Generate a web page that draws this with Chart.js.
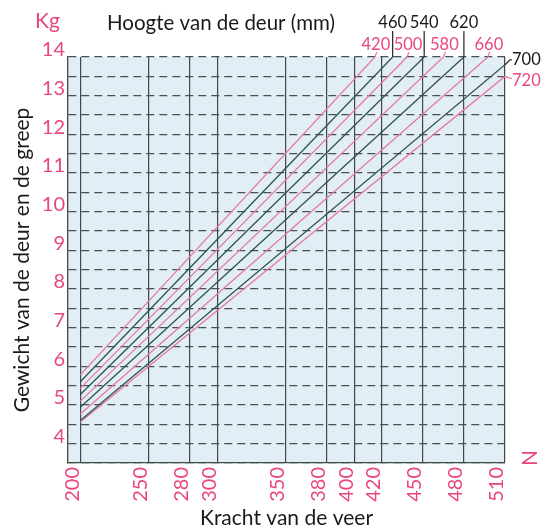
<!DOCTYPE html>
<html><head><meta charset="utf-8">
<script src="https://cdn.jsdelivr.net/npm/chart.js@4"></script>
<style>html,body{margin:0;padding:0;background:#fff}canvas{display:block}</style>
</head><body>
<canvas id="c" width="553" height="531"></canvas>
<script>
// ---- data ----
const doorHeights = [420, 460, 500, 540, 580, 620, 660, 700, 720];
const startForce = [200, 200, 200, 200, 200, 200, 200, 200, 200];
const startWeight = [5.78, 5.60, 5.43, 5.27, 5.10, 4.94, 4.77, 4.60, 4.56];
const endForce = [415, 428, 438.5, 451, 465, 480, 497.5, 510, 510];
const endWeight = [14, 14, 14, 14, 14, 14, 14, 13.8, 13.5];
const forceTicks = [200, 250, 280, 300, 350, 380, 400, 420, 450, 480, 510];
const weightTicks = [4, 5, 6, 7, 8, 9, 10, 11, 12, 13, 14];

const PINK = '#e9477c';
const PINK_LINE = '#e8799f';
const DARK_LINE = '#2d524c';
const GRID = '#3f4946';
const FONT = 'Lato, "Noto Sans", sans-serif';

const datasets = doorHeights.map((h, i) => ({
  label: String(h),
  data: [{x: startForce[i], y: startWeight[i]}, {x: endForce[i], y: endWeight[i]}],
  borderColor: i % 2 === 0 ? PINK_LINE : DARK_LINE,
  borderWidth: 1.3,
  pointRadius: 0,
  showLine: true,
  fill: false
}));

const bgPlugin = {
  id: 'bg',
  beforeDraw(chart) {
    const {ctx, chartArea: a} = chart;
    ctx.save();
    ctx.fillStyle = '#e1eef6';
    ctx.fillRect(a.left, a.top, a.right - a.left, a.bottom - a.top);
    ctx.restore();
  }
};

const labelPlugin = {
  id: 'labels',
  afterDraw(chart) {
    const {ctx, scales: {x, y}} = chart;
    ctx.save();
    ctx.textBaseline = 'middle';
    ctx.fillStyle = PINK;
    ctx.font = '21px ' + FONT;
    ctx.textAlign = 'left';
    ctx.fillText('Kg', 35, 21);
    ctx.fillStyle = '#1a1a1a';
    ctx.font = '20.5px ' + FONT;
    ctx.textAlign = 'center';
    ctx.fillText('Hoogte van de deur (mm)', 221, 23);
    ctx.font = '16.5px ' + FONT;
    ctx.lineWidth = 1.2;
    doorHeights.forEach((h, i) => {
      const ex = x.getPixelForValue(endForce[i]);
      const ey = y.getPixelForValue(endWeight[i]);
      const pink = i % 2 === 0;
      ctx.strokeStyle = pink ? PINK_LINE : '#222';
      ctx.fillStyle = pink ? PINK : '#1a1a1a';
      if (endWeight[i] >= 14) {
        ctx.textAlign = 'center';
        if (pink) {
          ctx.fillText(String(h), ex + 1, 45);
          ctx.beginPath(); ctx.moveTo(ex + 2, 52); ctx.lineTo(ex, ey); ctx.stroke();
        } else {
          ctx.fillText(String(h), ex, 23);
          ctx.beginPath(); ctx.moveTo(ex, 31); ctx.lineTo(ex, ey); ctx.stroke();
        }
      } else {
        const ly = pink ? ey + 4 : ey - 5;
        ctx.textAlign = 'left';
        ctx.fillText(String(h), ex + 7, ly);
        ctx.beginPath(); ctx.moveTo(ex, ey); ctx.lineTo(ex + 5, ly - (pink ? 2 : 0)); ctx.lineTo(ex + 7, ly - (pink ? 2 : 0)); ctx.stroke();
      }
    });
    ctx.fillStyle = PINK;
    ctx.font = '21px ' + FONT;
    ctx.translate(530, 458);
    ctx.rotate(-Math.PI / 2);
    ctx.textAlign = 'center';
    ctx.fillText('N', 0, 0);
    ctx.restore();
  }
};

new Chart(document.getElementById('c'), {
  type: 'scatter',
  data: {datasets},
  plugins: [bgPlugin, labelPlugin],
  options: {
    responsive: false,
    animation: false,
    layout: {padding: {top: 57, right: 48, left: 0, bottom: 0}},
    plugins: {legend: {display: false}, tooltip: {enabled: false}},
    scales: {
      x: {
        type: 'linear', min: 191, max: 510,
        afterBuildTicks: s => { s.ticks = forceTicks.map(v => ({value: v})); },
        afterFit: s => { s.height = 68; },
        ticks: {autoSkip: false, minRotation: 90, maxRotation: 90, labelOffset: -8, padding: 4,
          color: PINK, font: {size: 20, family: FONT}, callback: v => String(v)},
        grid: {color: GRID, lineWidth: 1.2, drawTicks: false},
        border: {display: true, color: GRID, width: 1.3},
        title: {display: true, text: 'Kracht van de veer', color: '#1a1a1a',
          font: {size: 21, family: FONT}, padding: {top: 0, bottom: 0}}
      },
      y: {
        type: 'linear', min: 3.5, max: 14,
        afterBuildTicks: s => {
          const t = [];
          for (let v = 3.5; v <= 14.001; v += 0.5) t.push({value: Math.round(v * 2) / 2});
          s.ticks = t;
        },
        afterFit: s => { s.width = 68; },
        ticks: {autoSkip: false, labelOffset: -7, padding: 3, color: PINK,
          font: {size: 20, family: FONT},
          callback: v => weightTicks.includes(v) ? String(v) : ''},
        grid: {color: '#4a4f4f', lineWidth: 1.3, drawTicks: false},
        border: {display: true, color: GRID, width: 1.3, dash: [8, 5]},
        title: {display: true, text: 'Gewicht van de deur en de greep', color: '#1a1a1a',
          font: {size: 21, family: FONT}, padding: {top: 10, bottom: 0}}
      }
    }
  }
});
</script>
</body></html>
